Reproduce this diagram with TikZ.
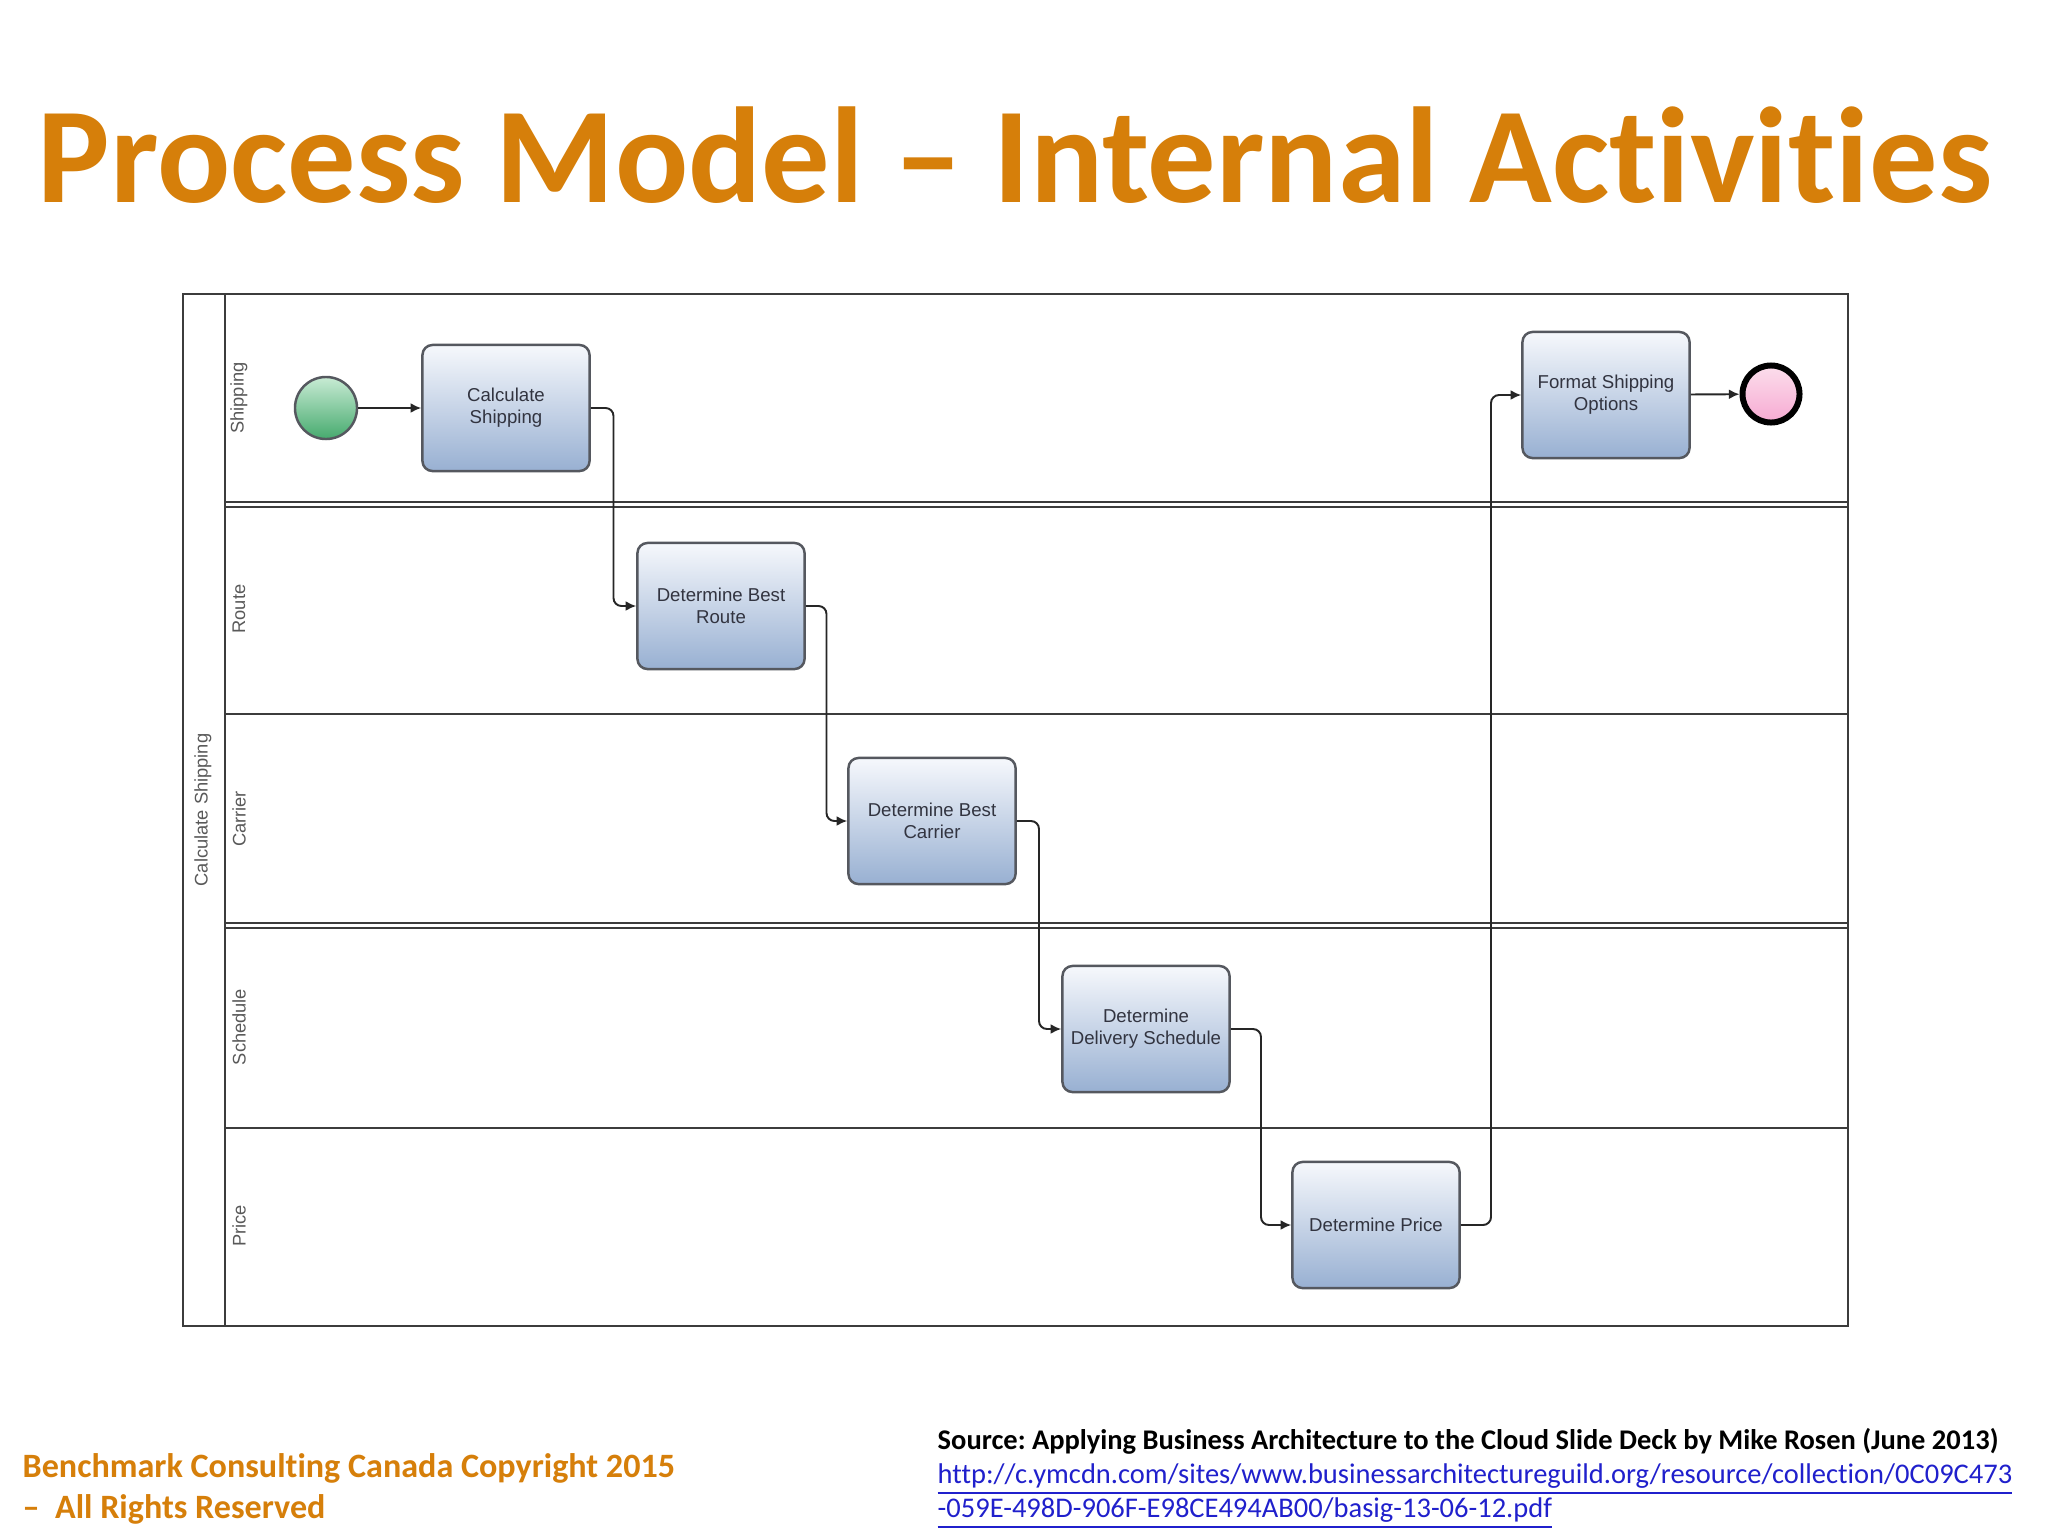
\documentclass[tikz,border=0pt]{standalone}
\usepackage{fontspec}
\setmainfont[Ligatures=NoCommon]{Carlito}
\newfontfamily\arialf{Liberation Sans}
\usetikzlibrary{arrows.meta,calc,shapes.geometric}
\definecolor{ttlorange}{RGB}{214,127,10}
\definecolor{linkblue}{RGB}{32,32,204}
\definecolor{laneline}{RGB}{60,60,60}
\definecolor{tasktop}{RGB}{246,248,252}
\definecolor{taskbot}{RGB}{152,176,210}
\definecolor{taskborder}{RGB}{85,88,95}
\definecolor{tasktext}{RGB}{50,52,64}
\definecolor{greentop}{RGB}{200,235,212}
\definecolor{greenbot}{RGB}{70,170,110}
\definecolor{pinktop}{RGB}{252,222,236}
\definecolor{pinkbot}{RGB}{246,170,210}
\tikzset{
  taskbox/.style={draw=taskborder, line width=0.7pt, rounded corners=0.1cm,
    top color=tasktop, bottom color=taskbot, minimum width=1.67cm, minimum height=1.26cm,
    inner sep=0pt, align=center, text=tasktext,
    font=\arialf\fontsize{5.3}{6.3}\selectfont},
  startev/.style={circle, draw=taskborder, line width=0.7pt, minimum size=0.62cm, inner sep=0pt,
    top color=greentop, bottom color=greenbot},
  endev/.style={circle, draw=black, line width=1.7pt, minimum size=0.57cm, inner sep=0pt,
    top color=pinktop, bottom color=pinkbot},
  flow/.style={draw=black!85, line width=0.55pt, rounded corners=0.08cm,
    -{Latex[length=3pt,width=2.8pt]}},
  lanelbl/.style={rotate=90, text=black!65, font=\arialf\fontsize{5.2}{6}\selectfont, inner sep=0pt},
  poolline/.style={draw=laneline, line width=0.8pt},
}
\frenchspacing
\begin{document}
\begin{tikzpicture}[x=0.01cm, y=-0.01cm]
\useasboundingbox[fill=white] (0,0) rectangle (2048,1536);
% title
\node[anchor=base west, inner sep=0pt, text=ttlorange, font=\bfseries\fontsize{38.8}{46}\selectfont] (title) at (37,202) {Process Model -- Internal Activities};
% pool
\draw[poolline] (183,294) rectangle (1848,1326);
\draw[poolline] (225,294) -- (225,1326);
\draw[poolline] (225,502) -- (1848,502);
\draw[poolline] (225,507) -- (1848,507);
\draw[poolline] (225,714) -- (1848,714);
\draw[poolline] (225,923) -- (1848,923);
\draw[poolline] (225,928) -- (1848,928);
\draw[poolline] (225,1128) -- (1848,1128);
\node[lanelbl] (pool) at (203,810) {Calculate Shipping};
\node[lanelbl] (l1) at (239,398) {Shipping};
\node[lanelbl] (l2) at (239,609) {Route};
\node[lanelbl] (l3) at (239,819) {Carrier};
\node[lanelbl] (l4) at (239,1027) {Schedule};
\node[lanelbl] (l5) at (239,1226) {Price};
% events and tasks
\node[startev] (st) at (326,408) {};
\node[taskbox] (cs) at (506,408) {Calculate\\Shipping};
\node[taskbox] (rt) at (721,606) {Determine Best\\Route};
\node[taskbox] (ca) at (932,821) {Determine Best\\Carrier};
\node[taskbox] (sc) at (1146,1029) {Determine\\Delivery Schedule};
\node[taskbox] (pr) at (1376,1225) {Determine Price};
\node[taskbox] (fo) at (1606,395) {Format Shipping\\Options};
\node[endev] (en) at (1771,394) {};
% flows
\draw[flow] (st) -- (cs);
\draw[flow] (cs.east) -| ($(cs.east)!0.5!(rt.west)$) |- (rt.west);
\draw[flow] (rt.east) -| ($(rt.east)!0.5!(ca.west)$) |- (ca.west);
\draw[flow] (ca.east) -| ($(ca.east)!0.5!(sc.west)$) |- (sc.west);
\draw[flow] (sc.east) -| ($(sc.east)!0.5!(pr.west)$) |- (pr.west);
\draw[flow] (pr.east) -| ($(pr.east)!0.5!(fo.west)$) |- (fo.west);
\draw[flow] (fo) -- (en);
% footer
\node[anchor=base west, inner sep=0pt, text=ttlorange, font=\bfseries\fontsize{9.7}{11}\selectfont] (fa) at (22,1477) {Benchmark Consulting Canada Copyright 2015};
\node[anchor=base west, inner sep=0pt, text=ttlorange, font=\bfseries\fontsize{9.7}{11}\selectfont] (fb) at (22,1518) {--~~All Rights Reserved};
\node[anchor=base west, inner sep=0pt, font=\bfseries\fontsize{8.1}{9}\selectfont] (src) at (937,1449) {Source: Applying Business Architecture to the Cloud Slide Deck by Mike Rosen (June 2013)};
\node[anchor=base west, inner sep=0pt, text=linkblue, font=\fontsize{8.1}{9}\selectfont] (u1) at (937,1483) {\underline{http://c.ymcdn.com/sites/www.businessarchitectureguild.org/resource/collection/0C09C473}};
\node[anchor=base west, inner sep=0pt, text=linkblue, font=\fontsize{8.1}{9}\selectfont] (u2) at (937,1517) {\underline{-059E-498D-906F-E98CE494AB00/basig-13-06-12.pdf}};
\end{tikzpicture}
\end{document}
